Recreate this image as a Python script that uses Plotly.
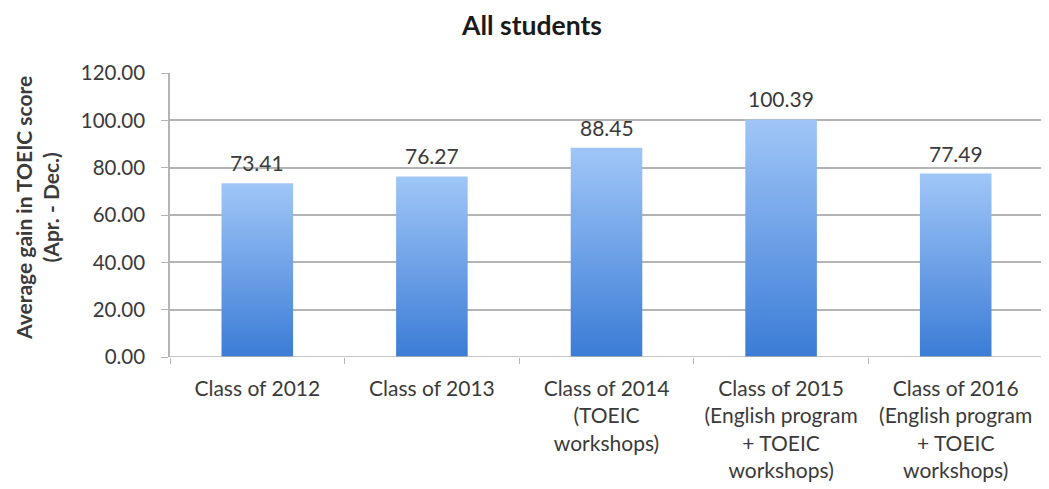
import plotly.graph_objects as go

categories = [
    "Class of 2012",
    "Class of 2013",
    "Class of 2014<br>(TOEIC<br>workshops)",
    "Class of 2015<br>(English program<br>+ TOEIC<br>workshops)",
    "Class of 2016<br>(English program<br>+ TOEIC<br>workshops)",
]
values = [73.41, 76.27, 88.45, 100.39, 77.49]
y_ticks = [0, 20, 40, 60, 80, 100, 120]

FONT = "Lato"
TXT = "#3a3a3a"
GRID = "#b4b4b4"
half = 0.205

# page body has an 8px default margin; size the figure to fit the window
W, H = 1041, 481
PL, PR, PT, PB = 162, 6, 65, 132

fig = go.Figure()
for i, v in enumerate(values):
    fig.add_trace(go.Scatter(
        x=[i - half, i + half, i + half, i - half, i - half],
        y=[0, 0, v, v, 0],
        mode="lines", fill="toself",
        line=dict(width=0, color="rgba(0,0,0,0)"),
        fillgradient=dict(type="vertical",
                          colorscale=[[0, "#3b7cd6"], [1, "#a0c6f7"]]),
        hoverinfo="skip", showlegend=False,
    ))

for i, v in enumerate(values):
    fig.add_annotation(
        x=i, y=v, xref="x", yref="y", text=f"{v:.2f}",
        showarrow=False, yanchor="bottom", xanchor="center", yshift=6,
        font=dict(family=FONT, size=21, color=TXT),
    )

fig.update_layout(
    width=W, height=H,
    margin=dict(l=PL, r=PR, t=PT, b=PB, autoexpand=False),
    paper_bgcolor="white", plot_bgcolor="white",
    font=dict(family=FONT, size=20, color=TXT),
    title=dict(text="<b>All students</b>", x=524 / W, xanchor="center",
               y=1 - 18 / H, yanchor="middle",
               font=dict(family=FONT, size=26.5, color="#1a1a1a")),
    xaxis=dict(
        range=[-0.5, len(values) - 0.5],
        tickmode="array", tickvals=list(range(len(values))), ticktext=categories,
        ticks="", showgrid=False, zeroline=False,
        showline=False,
        minor=dict(tickmode="array", tickvals=[i - 0.5 for i in range(len(values) + 1)],
                   ticks="outside", ticklen=6, tickcolor=GRID, showgrid=False),
        tickfont=dict(family=FONT, size=21, color=TXT),
        ticklabelstandoff=17,
        fixedrange=True, automargin=False,
    ),
    yaxis=dict(
        range=[0, 120], tickmode="array", tickvals=y_ticks,
        ticktext=[f"{t:.2f}" for t in y_ticks],
        ticks="outside", ticklen=7, tickcolor=GRID,
        showgrid=True, gridcolor=GRID, gridwidth=1.5,
        showline=True, linecolor=GRID, linewidth=1.5,
        zeroline=False,
        tickfont=dict(family=FONT, size=20.5, color=TXT),
        ticklabelstandoff=12,
        fixedrange=True, automargin=False,
    ),
)
fig.add_shape(type="line", xref="paper", yref="y", x0=0, x1=1, y0=0, y1=0,
              line=dict(color=GRID, width=1.5), layer="above")

plot_w = W - PL - PR
fig.add_annotation(
    text="<b>Average gain in TOEIC score<br>(Apr. - Dec.)</b>",
    xref="paper", yref="paper", x=(37 - 8 - PL) / plot_w, y=0.525,
    xanchor="center", yanchor="middle", textangle=-90, showarrow=False,
    font=dict(family=FONT, size=21, color=TXT),
)

fig.write_html("out.html")
